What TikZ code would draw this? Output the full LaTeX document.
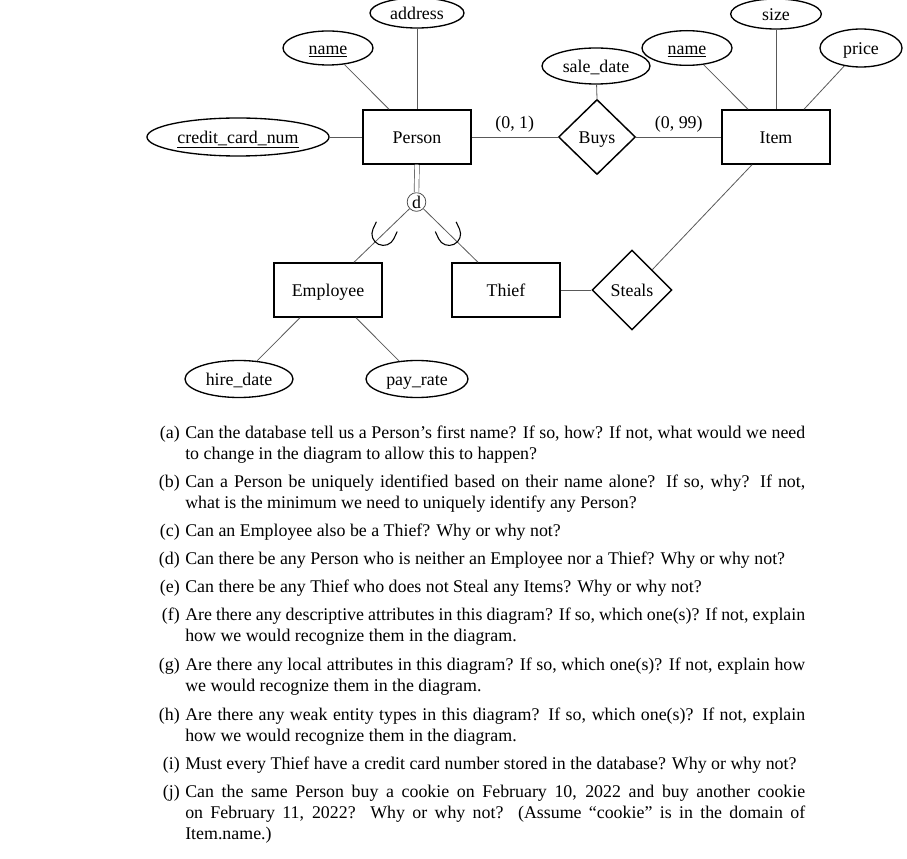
\documentclass[tikz,border=0pt]{standalone}
\usepackage{fontspec}
\setmainfont{Liberation Serif}
\usetikzlibrary{shapes.geometric,calc}
\newcommand{\qlab}[3]{\node[qtext, anchor=base east] (#1) at (180,#2) {#3};}
\newcommand{\qfull}[3]{\node[qtext, anchor=base west] (#1) at (185,#2) {\makebox[465pt][s]{#3}};}
\newcommand{\qpart}[3]{\node[qtext, anchor=base west] (#1) at (185,#2) {#3};}
\begin{document}
\begin{tikzpicture}[x=0.75pt,y=-0.75pt,
  every node/.style={font=\fontsize{13.4}{15.4}\selectfont},
  lbl/.style={text height=9.6pt, text depth=0pt},
  ent/.style={lbl, draw, line width=1.1pt, minimum width=81pt, minimum height=40.5pt, inner sep=0pt},
  attr/.style={lbl, draw, ellipse, line width=1pt, inner sep=0pt},
  rel/.style={lbl, draw, diamond, line width=1.1pt, inner sep=0pt},
  conn/.style={draw=black!65, line width=0.6pt},
  uarc/.style={draw=black, line width=0.8pt},
  qtext/.style={inner sep=0pt}]
\fill[white] (0,0) rectangle (907,859);
\useasboundingbox (0,0) rectangle (907,859);

% entities
\node[ent] (Person) at (417,137) {Person};
\node[ent] (Item) at (776,137) {Item};
\node[ent] (Employee) at (328,290) {Employee};
\node[ent] (Thief) at (506,290) {Thief};

% relationships
\node[rel, minimum width=57.75pt, minimum height=56.25pt] (Buys) at (597,137) {Buys};
\node[rel, minimum width=60pt, minimum height=60pt] (Steals) at (632,290) {Steals};

% attributes
\node[attr, minimum width=70.5pt, minimum height=22.5pt] (address) at (417,13) {address};
\node[attr, minimum width=67.5pt, minimum height=25.5pt] (nameP) at (328,48) {\underline{name}};
\node[attr, minimum width=136.5pt, minimum height=28.5pt] (ccn) at (238,137) {\underline{credit\_card\_num}};
\node[attr, minimum width=81pt, minimum height=27pt] (saledate) at (596,66) {sale\_date};
\node[attr, minimum width=67.5pt, minimum height=26pt] (nameI) at (687,48) {\underline{name}};
\node[attr, minimum width=68pt, minimum height=22.5pt] (size) at (776,14) {size};
\node[attr, minimum width=61.5pt, minimum height=28.5pt] (price) at (861,48) {price};
\node[attr, minimum width=81pt, minimum height=27.75pt] (hiredate) at (239,379) {hire\_date};
\node[attr, minimum width=76.5pt, minimum height=27.75pt] (payrate) at (417,379) {pay\_rate};

% disjointness circle
\node[draw=black!70, circle, line width=0.6pt, minimum size=14pt, inner sep=0pt] (d) at (416.5,202) {d};

% connectors
\draw[conn] (nameP) -- ($(Person.north)+(-28,0)$);
\draw[conn] (address) -- (Person.north);
\draw[conn] (ccn.east) -- (Person.west);
\draw[conn] (Person.east) -- node[above] (card1) {(0, 1)} (Buys.west);
\draw[conn] (Buys.east) -- node[above] (card2) {(0, 99)} (Item.west);
\draw[conn] (saledate) -- (Buys.north);
\draw[conn] (nameI) -- ($(Item.north)+(-28,0)$);
\draw[conn] (size) -- (Item.north);
\draw[conn] (price) -- ($(Item.north)+(28,0)$);
\draw[conn] ($(Item.south)+(-24,0)$) -- (Steals.north east);
\draw[conn] (Thief.east) -- (Steals.west);
\draw[black!65, line width=0.5pt, double, double distance=3pt] (Person.south) -- (d.north);
\draw[conn] (d) -- coordinate[pos=0.47] (uL) ($(Employee.north)+(26,0)$);
\draw[conn] (d) -- coordinate[pos=0.47] (uR) ($(Thief.north)+(-28,0)$);
\draw[conn] ($(Employee.south)+(-28,0)$) -- (hiredate);
\draw[conn] ($(Employee.south)+(28,0)$) -- (payrate);

% subset symbols
\draw[uarc, shift={(uL)}, rotate=-25] (-11.5,-8) -- (-11.5,0) arc[start angle=180, end angle=0, radius=11.5] -- (11.5,-8);
\draw[uarc, shift={(uR)}, rotate=25] (-11.5,-8) -- (-11.5,0) arc[start angle=180, end angle=0, radius=11.5] -- (11.5,-8);

% questions
\qlab{la}{438}{(a)}
\qfull{a1}{438}{Can the database tell us a Person’s first name? If so, how? If not, what would we need}
\qpart{a2}{459}{to change in the diagram to allow this to happen?}
\qlab{lb}{487}{(b)}
\qfull{b1}{487}{Can a Person be uniquely identified based on their name alone? If so, why? If not,}
\qpart{b2}{508}{what is the minimum we need to uniquely identify any Person?}
\qlab{lc}{536}{(c)}
\qpart{c1}{536}{Can an Employee also be a Thief? Why or why not?}
\qlab{ld}{564}{(d)}
\qpart{d1}{564}{Can there be any Person who is neither an Employee nor a Thief? Why or why not?}
\qlab{le}{592}{(e)}
\qpart{e1}{592}{Can there be any Thief who does not Steal any Items? Why or why not?}
\qlab{lf}{620}{(f)}
\qfull{f1}{620}{Are there any descriptive attributes in this diagram? If so, which one(s)? If not, explain}
\qpart{f2}{641}{how we would recognize them in the diagram.}
\qlab{lg}{670}{(g)}
\qfull{g1}{670}{Are there any local attributes in this diagram? If so, which one(s)? If not, explain how}
\qpart{g2}{691}{we would recognize them in the diagram.}
\qlab{lh}{720}{(h)}
\qfull{h1}{720}{Are there any weak entity types in this diagram? If so, which one(s)? If not, explain}
\qpart{h2}{741}{how we would recognize them in the diagram.}
\qlab{li}{769}{(i)}
\qpart{i1}{769}{Must every Thief have a credit card number stored in the database? Why or why not?}
\qlab{lj}{797}{(j)}
\qfull{j1}{797}{Can the same Person buy a cookie on February 10, 2022 and buy another cookie}
\qfull{j2}{818}{on February 11, 2022? Why or why not? (Assume “cookie” is in the domain of}
\qpart{j3}{839}{Item.name.)}
\end{tikzpicture}
\end{document}
